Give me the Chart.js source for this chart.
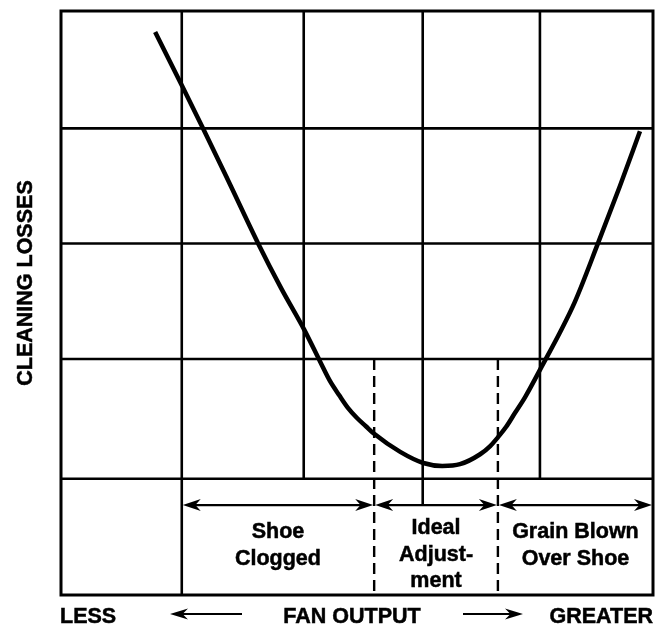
<!DOCTYPE html>
<html><head><meta charset="utf-8">
<script src="https://cdn.jsdelivr.net/npm/chart.js@4/dist/chart.umd.min.js"></script>
<style>html,body{margin:0;padding:0;background:#fff}#wrap{width:660px;height:627px}</style>
</head><body><div id="wrap"><canvas id="c" width="660" height="627"></canvas></div>
<script>
// Curve (fan output 0-100, cleaning losses 0-100)
const fanOutput      = [15.9, 20.4, 24.0, 28.6, 33.3, 37.2, 41.1, 43.8, 45.4, 47.0, 48.5, 50.0, 51.5, 52.9, 57.3, 61.2, 64.4, 67.4, 70.8, 72.5, 73.8, 75.2, 76.7, 78.4, 81.4, 84.3, 86.8, 90.7, 94.4, 97.8];
const cleaningLosses = [96.4, 87.3, 79.9, 70.2, 60.2, 52.5, 45.4, 39.9, 36.7, 34.2, 32.0, 30.3, 28.9, 27.6, 24.5, 22.6, 22.1, 22.4, 24.1, 25.5, 27.0, 28.8, 31.2, 33.9, 39.5, 45.0, 50.2, 60.2, 70.0, 79.4];
const gridX = [20.4, 41.0, 61.1, 80.9];
const gridY = [19.9, 40.4, 60.2, 79.9];
const zoneEdges = [20.4, 52.9, 73.8, 100];
const zoneLabels = [["Shoe", "Clogged"], ["Ideal", "Adjust-", "ment"], ["Grain Blown", "Over Shoe"]];
const yTitle = "CLEANING LOSSES";
const xTitle = "FAN OUTPUT";
const xLow = "LESS";
const xHigh = "GREATER";

const FONT = 'bold 21.5px "Liberation Sans", Arial, Helvetica, sans-serif';
const ARROW_LEVEL = 15.4; // data-y of the zone arrows

function seg(ctx, x1, y1, x2, y2) { ctx.beginPath(); ctx.moveTo(x1, y1); ctx.lineTo(x2, y2); ctx.stroke(); }
function head(ctx, tx, ty, dir, len, half) {
  ctx.beginPath();
  ctx.moveTo(tx, ty);
  ctx.lineTo(tx - dir * len, ty - half);
  ctx.lineTo(tx - dir * len * 0.7, ty);
  ctx.lineTo(tx - dir * len, ty + half);
  ctx.closePath();
  ctx.fill();
}
function text(ctx, t, x, y) { ctx.fillText(t, x, y); ctx.strokeText(t, x, y); }

const diagram = {
  id: 'diagram',
  beforeDatasetsDraw(chart) {
    const { ctx, chartArea: a, scales: { x, y } } = chart;
    ctx.save();
    ctx.strokeStyle = '#000'; ctx.fillStyle = '#000'; ctx.lineCap = 'butt';
    ctx.lineWidth = 2.6;
    gridY.forEach(v => { const py = y.getPixelForValue(v); seg(ctx, a.left, py, a.right, py); });
    const arrowY = y.getPixelForValue(ARROW_LEVEL);
    gridX.forEach(v => {
      const px = x.getPixelForValue(v);
      let bottom = y.getPixelForValue(gridY[0]);
      if (v === zoneEdges[0]) bottom = a.bottom;
      else if (v > zoneEdges[1] && v < zoneEdges[2]) bottom = arrowY;
      seg(ctx, px, a.top, px, bottom);
    });
    // dashed zone boundaries
    ctx.setLineDash([11, 6]);
    ctx.lineWidth = 2.4;
    [zoneEdges[1], zoneEdges[2]].forEach(v => {
      const px = x.getPixelForValue(v);
      seg(ctx, px, y.getPixelForValue(gridY[1]), px, a.bottom);
    });
    ctx.setLineDash([]);
    // zone arrows
    ctx.lineWidth = 2.2;
    for (let i = 0; i < zoneLabels.length; i++) {
      const x1 = x.getPixelForValue(zoneEdges[i]) + 1, x2 = x.getPixelForValue(zoneEdges[i + 1]) - 1;
      seg(ctx, x1 + 8, arrowY, x2 - 8, arrowY);
      head(ctx, x1, arrowY, -1, 18, 6);
      head(ctx, x2, arrowY, 1, 18, 6);
    }
    // zone labels
    ctx.font = FONT; ctx.textAlign = 'center'; ctx.textBaseline = 'alphabetic';
    ctx.lineWidth = 0.5;
    zoneLabels.forEach((lines, i) => {
      const cx = (x.getPixelForValue(zoneEdges[i]) + x.getPixelForValue(zoneEdges[i + 1])) / 2;
      const first = lines.length === 3 ? a.bottom - 61 : a.bottom - 57;
      lines.forEach((t, k) => text(ctx, t, cx, first + k * 26.5));
    });
    // y title
    ctx.save();
    ctx.translate(32, 283);
    ctx.rotate(-Math.PI / 2);
    ctx.textAlign = 'center';
    text(ctx, yTitle, 0, 0);
    ctx.restore();
    // x titles
    const by = a.bottom + 28, ay = a.bottom + 19;
    ctx.textAlign = 'left'; text(ctx, xLow, a.left - 1, by);
    ctx.textAlign = 'right'; text(ctx, xHigh, a.right, by);
    ctx.textAlign = 'center'; text(ctx, xTitle, 352, by);
    ctx.lineWidth = 2.2;
    seg(ctx, 180, ay, 242, ay); head(ctx, 170, ay, -1, 18, 5.5);
    seg(ctx, 463, ay, 513, ay); head(ctx, 523, ay, 1, 18, 5.5);
    // outer border
    ctx.lineWidth = 3;
    ctx.strokeRect(a.left, a.top, a.right - a.left, a.bottom - a.top);
    ctx.restore();
  }
};

new Chart(document.getElementById('c'), {
  type: 'scatter',
  data: {
    datasets: [{
      data: fanOutput.map((v, i) => ({ x: v, y: cleaningLosses[i] })),
      showLine: true,
      borderColor: '#000',
      borderWidth: 4.5,
      pointRadius: 0,
      cubicInterpolationMode: 'monotone',
      borderCapStyle: 'butt'
    }]
  },
  options: {
    responsive: false,
    animation: false,
    devicePixelRatio: 1,
    layout: { padding: { left: 61, top: 11, right: 7, bottom: 32 } },
    scales: {
      x: { type: 'linear', min: 0, max: 100, display: false },
      y: { type: 'linear', min: 0, max: 100, display: false }
    },
    plugins: { legend: { display: false }, tooltip: { enabled: false } }
  },
  plugins: [diagram]
});
</script>
</body></html>
